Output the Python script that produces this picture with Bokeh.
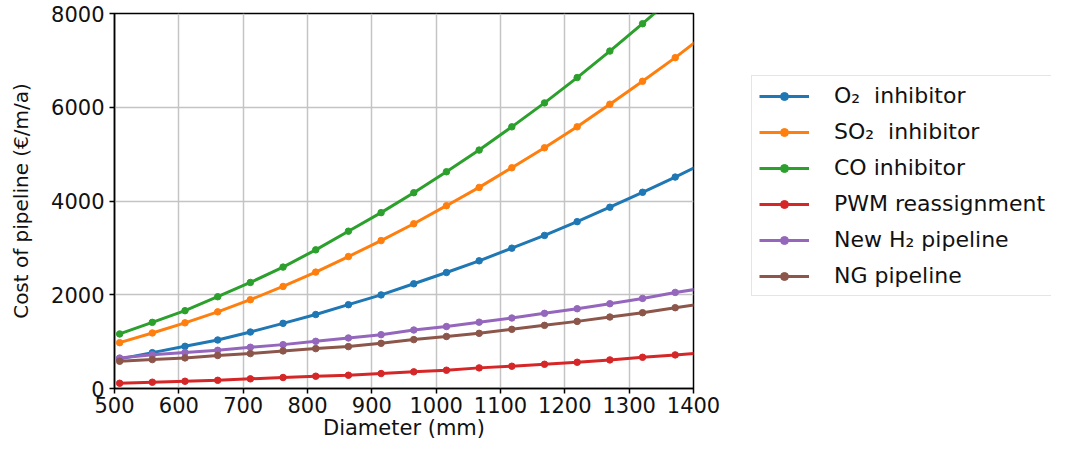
from bokeh.plotting import figure
from bokeh.models import Range1d, Legend, LegendItem, FixedTicker
from bokeh.layouts import row
from bokeh.embed import file_html
from bokeh.resources import INLINE

diam_mm = [508.0, 558.8, 609.6, 660.4, 711.2, 762.0, 812.8, 863.6, 914.4, 965.2,
           1016.0, 1066.8, 1117.6, 1168.4, 1219.2, 1270.0, 1320.8, 1371.6, 1422.4]

o2_inhibitor = [632, 765, 900, 1035, 1205, 1390, 1578, 1788, 1997, 2234,
                2475, 2724, 2994, 3266, 3560, 3867, 4186, 4511, 4850]
so2_inhibitor = [978, 1185, 1401, 1635, 1894, 2177, 2483, 2815, 3155, 3515,
                 3900, 4290, 4709, 5135, 5582, 6065, 6554, 7058, 7595]
co_inhibitor = [1164, 1411, 1660, 1958, 2262, 2590, 2958, 3356, 3752, 4177,
                4624, 5086, 5582, 6093, 6633, 7199, 7782, 8390, 9020]
pwm_reassignment = [112, 134, 155, 175, 206, 235, 262, 283, 319, 355,
                    390, 440, 475, 517, 560, 610, 666, 717, 768]
new_h2_pipeline = [650, 720, 770, 815, 880, 936, 1007, 1078, 1149, 1248,
                   1322, 1415, 1504, 1603, 1702, 1809, 1922, 2050, 2153]
ng_pipeline = [581, 617, 653, 705, 745, 802, 851, 894, 964, 1043,
               1110, 1177, 1262, 1347, 1432, 1525, 1617, 1724, 1827]

series_labels = ["O\u2082  inhibitor", "SO\u2082  inhibitor", "CO inhibitor",
                 "PWM reassignment", "New H\u2082 pipeline", "NG pipeline"]
series_values = [o2_inhibitor, so2_inhibitor, co_inhibitor,
                 pwm_reassignment, new_h2_pipeline, ng_pipeline]
series_colors = ["#1f77b4", "#ff7f0e", "#2ca02c", "#d62728", "#9467bd", "#8c564b"]

x_ticks = [500, 600, 700, 800, 900, 1000, 1100, 1200, 1300, 1400]
y_ticks = [0, 2000, 4000, 6000, 8000]

FONT = "DejaVu Sans"

p = figure(width=730, height=442, output_backend="svg", toolbar_location=None,
           x_range=Range1d(500, 1400), y_range=Range1d(0, 8000),
           min_border_left=114, min_border_top=13, min_border_bottom=50,
           min_border_right=37)

p.outline_line_color = "black"
p.outline_line_width = 1.5
p.background_fill_color = "white"
p.border_fill_color = "white"

for ax in (p.xaxis[0], p.yaxis[0]):
    ax.axis_line_color = "black"
    ax.axis_line_width = 1.5
    ax.major_tick_line_color = "black"
    ax.major_tick_line_width = 1.5
    ax.major_tick_out = 5
    ax.major_tick_in = 0
    ax.minor_tick_line_color = None
    ax.major_label_text_font = FONT
    ax.major_label_text_font_size = "21px"
    ax.major_label_text_color = "#111111"
    ax.axis_label_text_font = FONT
    ax.axis_label_text_font_size = "20px"
    ax.axis_label_text_font_style = "normal"
    ax.axis_label_text_color = "#111111"

p.xaxis.axis_label_text_font_size = "21px"
p.xaxis.major_label_standoff = 3
p.yaxis.major_label_standoff = 5
p.xaxis.ticker = FixedTicker(ticks=x_ticks)
p.yaxis.ticker = FixedTicker(ticks=y_ticks)
p.xaxis.axis_label = "Diameter (mm)"
p.yaxis.axis_label = "Cost of pipeline (\u20ac/m/a)"
p.xaxis.axis_label_standoff = 0
p.yaxis.axis_label_standoff = 15

p.grid.grid_line_color = "#c4c4c4"
p.grid.grid_line_width = 1.5

# legend panel: a second, axis-less figure holding the legend
# (its copies of the series lie outside its visible range)
q = figure(width=321, height=442, output_backend="svg", toolbar_location=None,
           x_range=Range1d(0, 1), y_range=Range1d(0, 1),
           min_border_left=0, min_border_right=0, min_border_top=0,
           min_border_bottom=0)
q.axis.visible = False
q.grid.visible = False
q.outline_line_color = None
q.background_fill_color = "white"
q.border_fill_color = "white"

items = []
for label, vals, col in zip(series_labels, series_values, series_colors):
    p.line(diam_mm, vals, line_color=col, line_width=3)
    p.scatter(diam_mm, vals, size=6.5, fill_color=col, line_color=col)
    l1 = q.line(diam_mm, vals, line_color=col, line_width=3)
    l2 = q.scatter(diam_mm, vals, size=6.5, fill_color=col, line_color=col)
    items.append(LegendItem(label=label, renderers=[l1, l2]))

legend = Legend(items=items, location=(21, 92))
legend.label_text_font = FONT
legend.label_text_font_size = "22px"
legend.label_text_color = "#111111"
legend.glyph_width = 50
legend.glyph_height = 20
legend.label_standoff = 25
legend.spacing = 11
legend.padding = 7
legend.margin = 0
legend.border_line_color = "#cccccc"
legend.border_line_width = 1.5
legend.background_fill_alpha = 1.0
q.add_layout(legend, "center")

layout = row(p, q)
open("out.html", "w").write(file_html(layout, INLINE))
